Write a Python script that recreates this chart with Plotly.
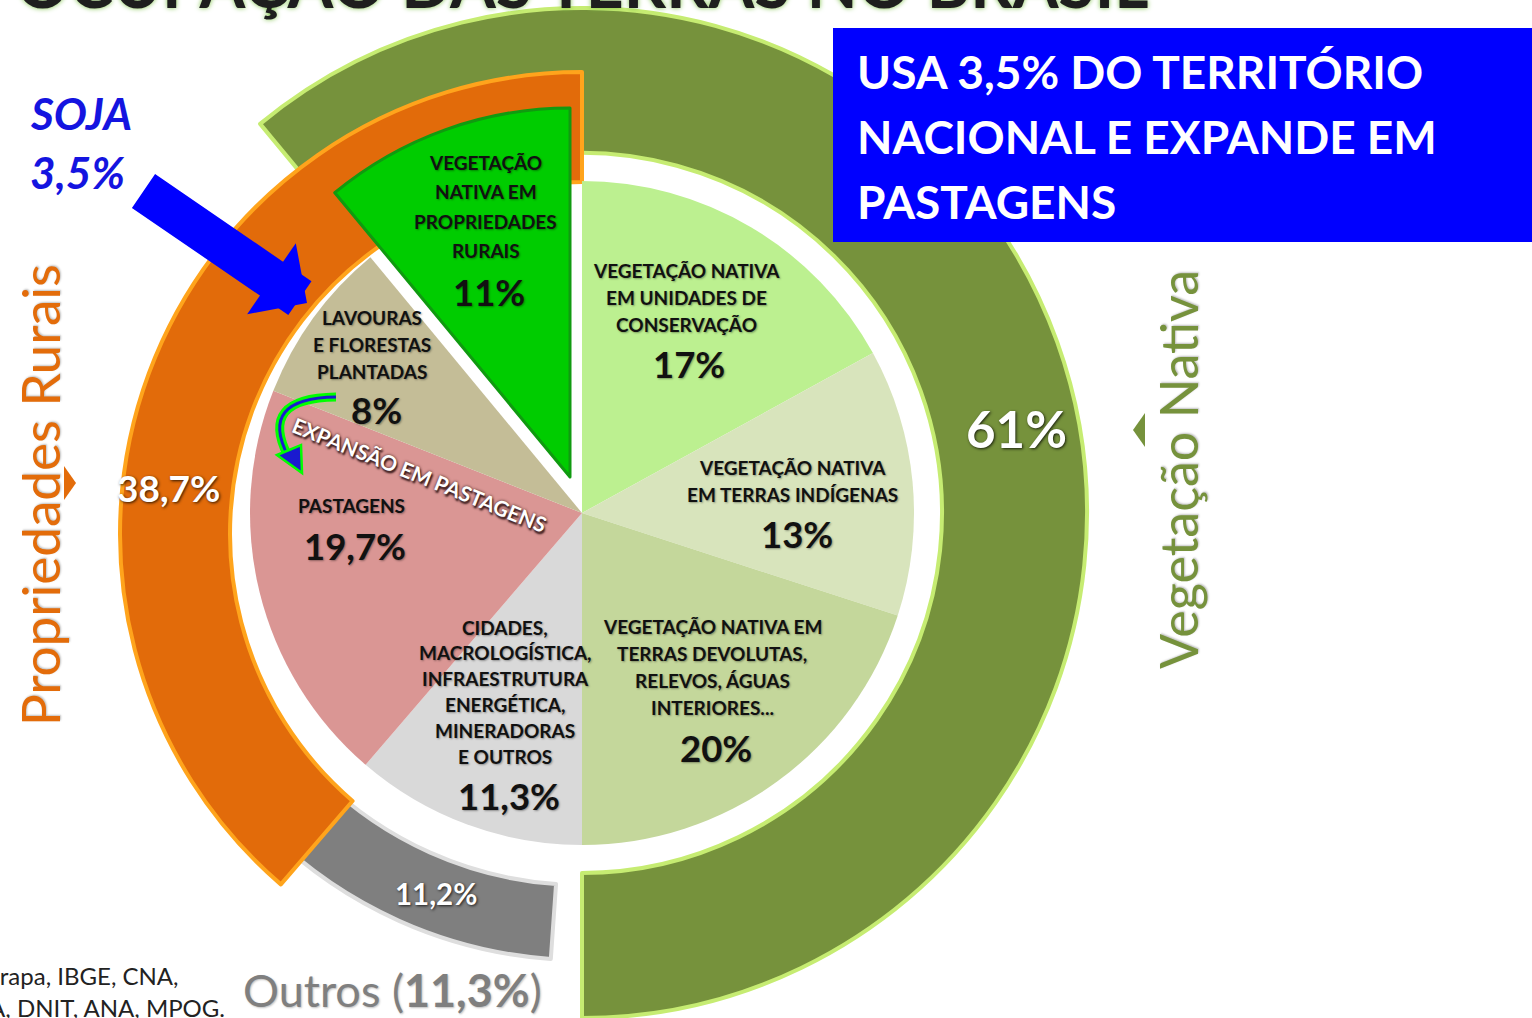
import plotly.graph_objects as go

W, H = 1532, 1018
CX, CY = 582, 513          # centre of the inner pie (px)
FONT = "Lato"

# ---------------- data ----------------
inner_labels = ["VN em Unidades de Conservação", "VN em Terras Indígenas",
                "VN em Terras Devolutas", "Cidades e outros", "Pastagens",
                "Lavouras e florestas plantadas", "VN em Propriedades Rurais"]
inner_values = [17, 13, 20, 11.3, 19.7, 8, 11]
inner_colors = ["#bcf090", "#d8e4bc", "#c4d79b", "#d9d9d9", "#da9694", "#c4bd97", "#00cc00"]

ring_labels = ["Vegetação Nativa", "Propriedades Rurais", "Outros"]
ring_values = [61, 38.7, 11.2]
ring_text = ["61%", "38,7%", "11,2%"]

inner_pct = ["17%", "13%", "20%", "11,3%", "19,7%", "8%", "11%"]


def P(x, y):
    return x / W, 1 - y / H


def dom(cx, cy, r):
    return dict(x=[max(0, (cx - r) / W), min(1, (cx + r) / W)],
                y=[max(0, 1 - (cy + r) / H), min(1, 1 - (cy - r) / H)])


T = "rgba(0,0,0,0)"
fig = go.Figure()

# ---- outer ring: Vegetação nativa (starts where VN propriedades starts) ----
veg = ring_values[0]
fig.add_trace(go.Pie(
    values=[veg, 100 - veg], sort=False, direction="clockwise",
    rotation=-inner_values[-1] * 3.6, hole=360 / 505,
    domain=dom(CX, CY, 505), textinfo="none", hoverinfo="skip", showlegend=False,
    marker=dict(colors=["#76923c", T], line=dict(color=["#c6ec72", T], width=[4, 0]))))

# ---- Outros ring ----
out = ring_values[2]
fig.add_trace(go.Pie(
    values=[out, 100 - out], sort=False, direction="clockwise",
    rotation=184, hole=372 / 447,
    domain=dom(CX, CY, 447), textinfo="none", hoverinfo="skip", showlegend=False,
    marker=dict(colors=["#7f7f7f", T], line=dict(color=["#dedede", T], width=[4, 0]))))

# ---- Propriedades rurais ring ----
prop = ring_values[1]
fig.add_trace(go.Pie(
    values=[prop, 100 - prop], sort=False, direction="clockwise",
    rotation=360 - prop * 3.6, hole=352 / 462,
    domain=dom(CX, 534, 462), textinfo="none", hoverinfo="skip", showlegend=False,
    marker=dict(colors=["#e26b0a", T], line=dict(color=["#ffa41c", T], width=[4, 0]))))

# ---- inner pie (VN propriedades slot left empty: drawn exploded below) ----
base_colors = inner_colors[:-1] + [T]
fig.add_trace(go.Pie(
    values=inner_values, labels=inner_labels, sort=False, direction="clockwise",
    rotation=0, domain=dom(CX, CY, 332), textinfo="none", hoverinfo="skip",
    showlegend=False, marker=dict(colors=base_colors, line=dict(width=0))))

# ---- exploded, enlarged VN propriedades slice ----
ex_colors = [T] * (len(inner_values) - 1) + [inner_colors[-1]]
ex_lines = [T] * (len(inner_values) - 1) + ["#109a10"]
fig.add_trace(go.Pie(
    values=inner_values, labels=inner_labels, sort=False, direction="clockwise",
    rotation=0, domain=dom(570, 477, 369), textinfo="none", hoverinfo="skip",
    showlegend=False,
    marker=dict(colors=ex_colors, line=dict(color=ex_lines, width=[0] * 6 + [3]))))

ann = []
shapes = []


def text(x, y, s, size, color="#111", weight="bold", style="normal", xanchor="center",
         yanchor="middle", angle=0, shadow="auto", align="center"):
    px, py = P(x, y)
    ann.append(dict(x=px, y=py, xref="paper", yref="paper", text=s, showarrow=False,
                    xanchor=xanchor, yanchor=yanchor, textangle=angle, align=align,
                    font=dict(family=FONT, size=size, color=color, weight=weight,
                              style=style, shadow=shadow)))


def block(cx, y0, lines, spacing, size, color="#111", shadow="1px 1px 2px rgba(0,0,0,0.35)",
          xanchor="center"):
    for i, s in enumerate(lines):
        text(cx, y0 + i * spacing, s, size, color=color, shadow=shadow, xanchor=xanchor)


LBL = 19
PCT = 36.5
SH = "1px 1px 2px rgba(0,0,0,0.35)"

# inner labels
block(486, 162, ["VEGETAÇÃO", "NATIVA EM", "PROPRIEDADES", "RURAIS"], 29.5, LBL)
text(489, 292, inner_pct[6], PCT, shadow=SH)
block(372, 317, ["LAVOURAS", "E FLORESTAS", "PLANTADAS"], 27, LBL)
text(376, 410, inner_pct[5], PCT, shadow=SH)
block(686, 270, ["VEGETAÇÃO NATIVA", "EM UNIDADES DE", "CONSERVAÇÃO"], 27, LBL)
text(689, 364, inner_pct[0], PCT, shadow=SH)
block(793, 468, ["VEGETAÇÃO NATIVA", "EM TERRAS INDÍGENAS"], 27, LBL)
text(797, 534, inner_pct[1], PCT, shadow=SH)
block(712, 626, ["VEGETAÇÃO NATIVA EM", "TERRAS DEVOLUTAS,", "RELEVOS, ÁGUAS", "INTERIORES..."],
      27, LBL)
text(716, 748, inner_pct[2], PCT, shadow=SH)
block(505, 627, ["CIDADES,", "MACROLOGÍSTICA,", "INFRAESTRUTURA", "ENERGÉTICA,",
                 "MINERADORAS", "E OUTROS"], 25.8, LBL)
text(509, 796, inner_pct[3], PCT, shadow=SH)
block(351, 505, ["PASTAGENS"], 27, LBL)
text(355, 546, inner_pct[4], PCT, shadow=SH)

# ring labels (white)
WSH = "1px 1px 3px rgba(0,0,0,0.8)"
text(1016, 428, ring_text[0], 51, color="white", shadow=WSH)
text(168, 488, ring_text[1], 37, color="white", shadow=WSH)
text(436, 893, ring_text[2], 29.5, color="white", shadow=WSH)

# expansion text
text(420, 474, "EXPANSÃO EM PASTAGENS", 21, color="white", angle=22,
     shadow="0px 0px 3px #3a1c1c, 2px 2px 2px #3a1c1c")

# side titles
text(40, 495, ring_labels[1], 53, color="#e36c0a", weight="normal", angle=-90,
     shadow="1px 1px 2px rgba(0,0,0,0.25)")
text(1178, 470, ring_labels[0], 52, color="#76923c", weight="normal", angle=-90,
     shadow="1px 1px 2px rgba(0,0,0,0.25)")
text(393, 990, "Outros (<b>11,3%</b>)", 45, color="#7f7f7f", weight="normal",
     shadow="1px 1px 2px rgba(0,0,0,0.25)")

# soja
text(28, 113, "SOJA", 44, color="#1414e0", style="italic", xanchor="left", shadow="none")
text(28, 172, "3,5%", 44, color="#1414e0", style="italic", xanchor="left", shadow="none")

# title (cropped at top)
text(582, 24, "OCUPAÇÃO DAS TERRAS NO BRASIL", 66, color="#1e1e1e", yanchor="bottom",
     shadow="0px 0px 5px #7fc24a")

# sources (cropped at left)
text(181, 975, "Fontes: Embrapa, IBGE, CNA,", 24, color="#222", weight="normal",
     xanchor="right", shadow="none")
text(227, 1007, "INCRA, DNIT, ANA, MPOG.", 24, color="#222", weight="normal",
     xanchor="right", shadow="none")

# blue box
x0, y0 = P(833, 242)
x1, y1 = P(1532, 28)
shapes.append(dict(type="rect", xref="paper", yref="paper", x0=x0, y0=y0, x1=x1, y1=y1,
                   fillcolor="#0000ff", line=dict(width=0), layer="above"))
block(855, 71, ["USA 3,5% DO TERRITÓRIO", "NACIONAL E EXPANDE EM", "PASTAGENS"], 65, 46,
      color="white", shadow="none", xanchor="left")

# blue arrow
tx, ty = P(307, 303)
ann.append(dict(x=tx, y=ty, xref="paper", yref="paper", text="", showarrow=True,
                ax=142 - 307, ay=190 - 303, arrowhead=1, arrowwidth=41, arrowsize=0.35,
                arrowcolor="#0000ff"))


def path(pts, close=True):
    s = ""
    for i, (x, y) in enumerate(pts):
        px, py = P(x, y)
        s += ("M" if i == 0 else "L") + f"{px},{py} "
    return s + ("Z" if close else "")


# small triangles next to side titles
shapes.append(dict(type="path", xref="paper", yref="paper",
                   path=path([(64, 466), (76, 483), (64, 500)]),
                   fillcolor="#e36c0a", line=dict(width=0)))
shapes.append(dict(type="path", xref="paper", yref="paper",
                   path=path([(1145, 413), (1133, 430), (1145, 447)]),
                   fillcolor="#76923c", line=dict(width=0)))

# green curved arrow
a = P(336, 397); c = P(258, 398); b = P(288, 456)
curve = f"M{a[0]},{a[1]} Q{c[0]},{c[1]} {b[0]},{b[1]}"
shapes.append(dict(type="path", xref="paper", yref="paper", path=curve,
                   line=dict(color="#00ff00", width=9)))
shapes.append(dict(type="path", xref="paper", yref="paper", path=curve,
                   line=dict(color="#1a1ad0", width=3)))
shapes.append(dict(type="path", xref="paper", yref="paper",
                   path=path([(277, 455), (301, 445), (302, 473)]),
                   fillcolor="#1a1ad0", line=dict(color="#00ff00", width=2.5)))

fig.update_layout(
    width=W, height=H, margin=dict(l=0, r=0, t=0, b=0),
    paper_bgcolor="white", plot_bgcolor="white",
    annotations=ann, shapes=shapes,
    xaxis=dict(visible=False), yaxis=dict(visible=False),
)

fig.write_html("out.html", config={"displayModeBar": False},
               post_script="document.body.style.margin='0';document.body.style.overflow='hidden';")
